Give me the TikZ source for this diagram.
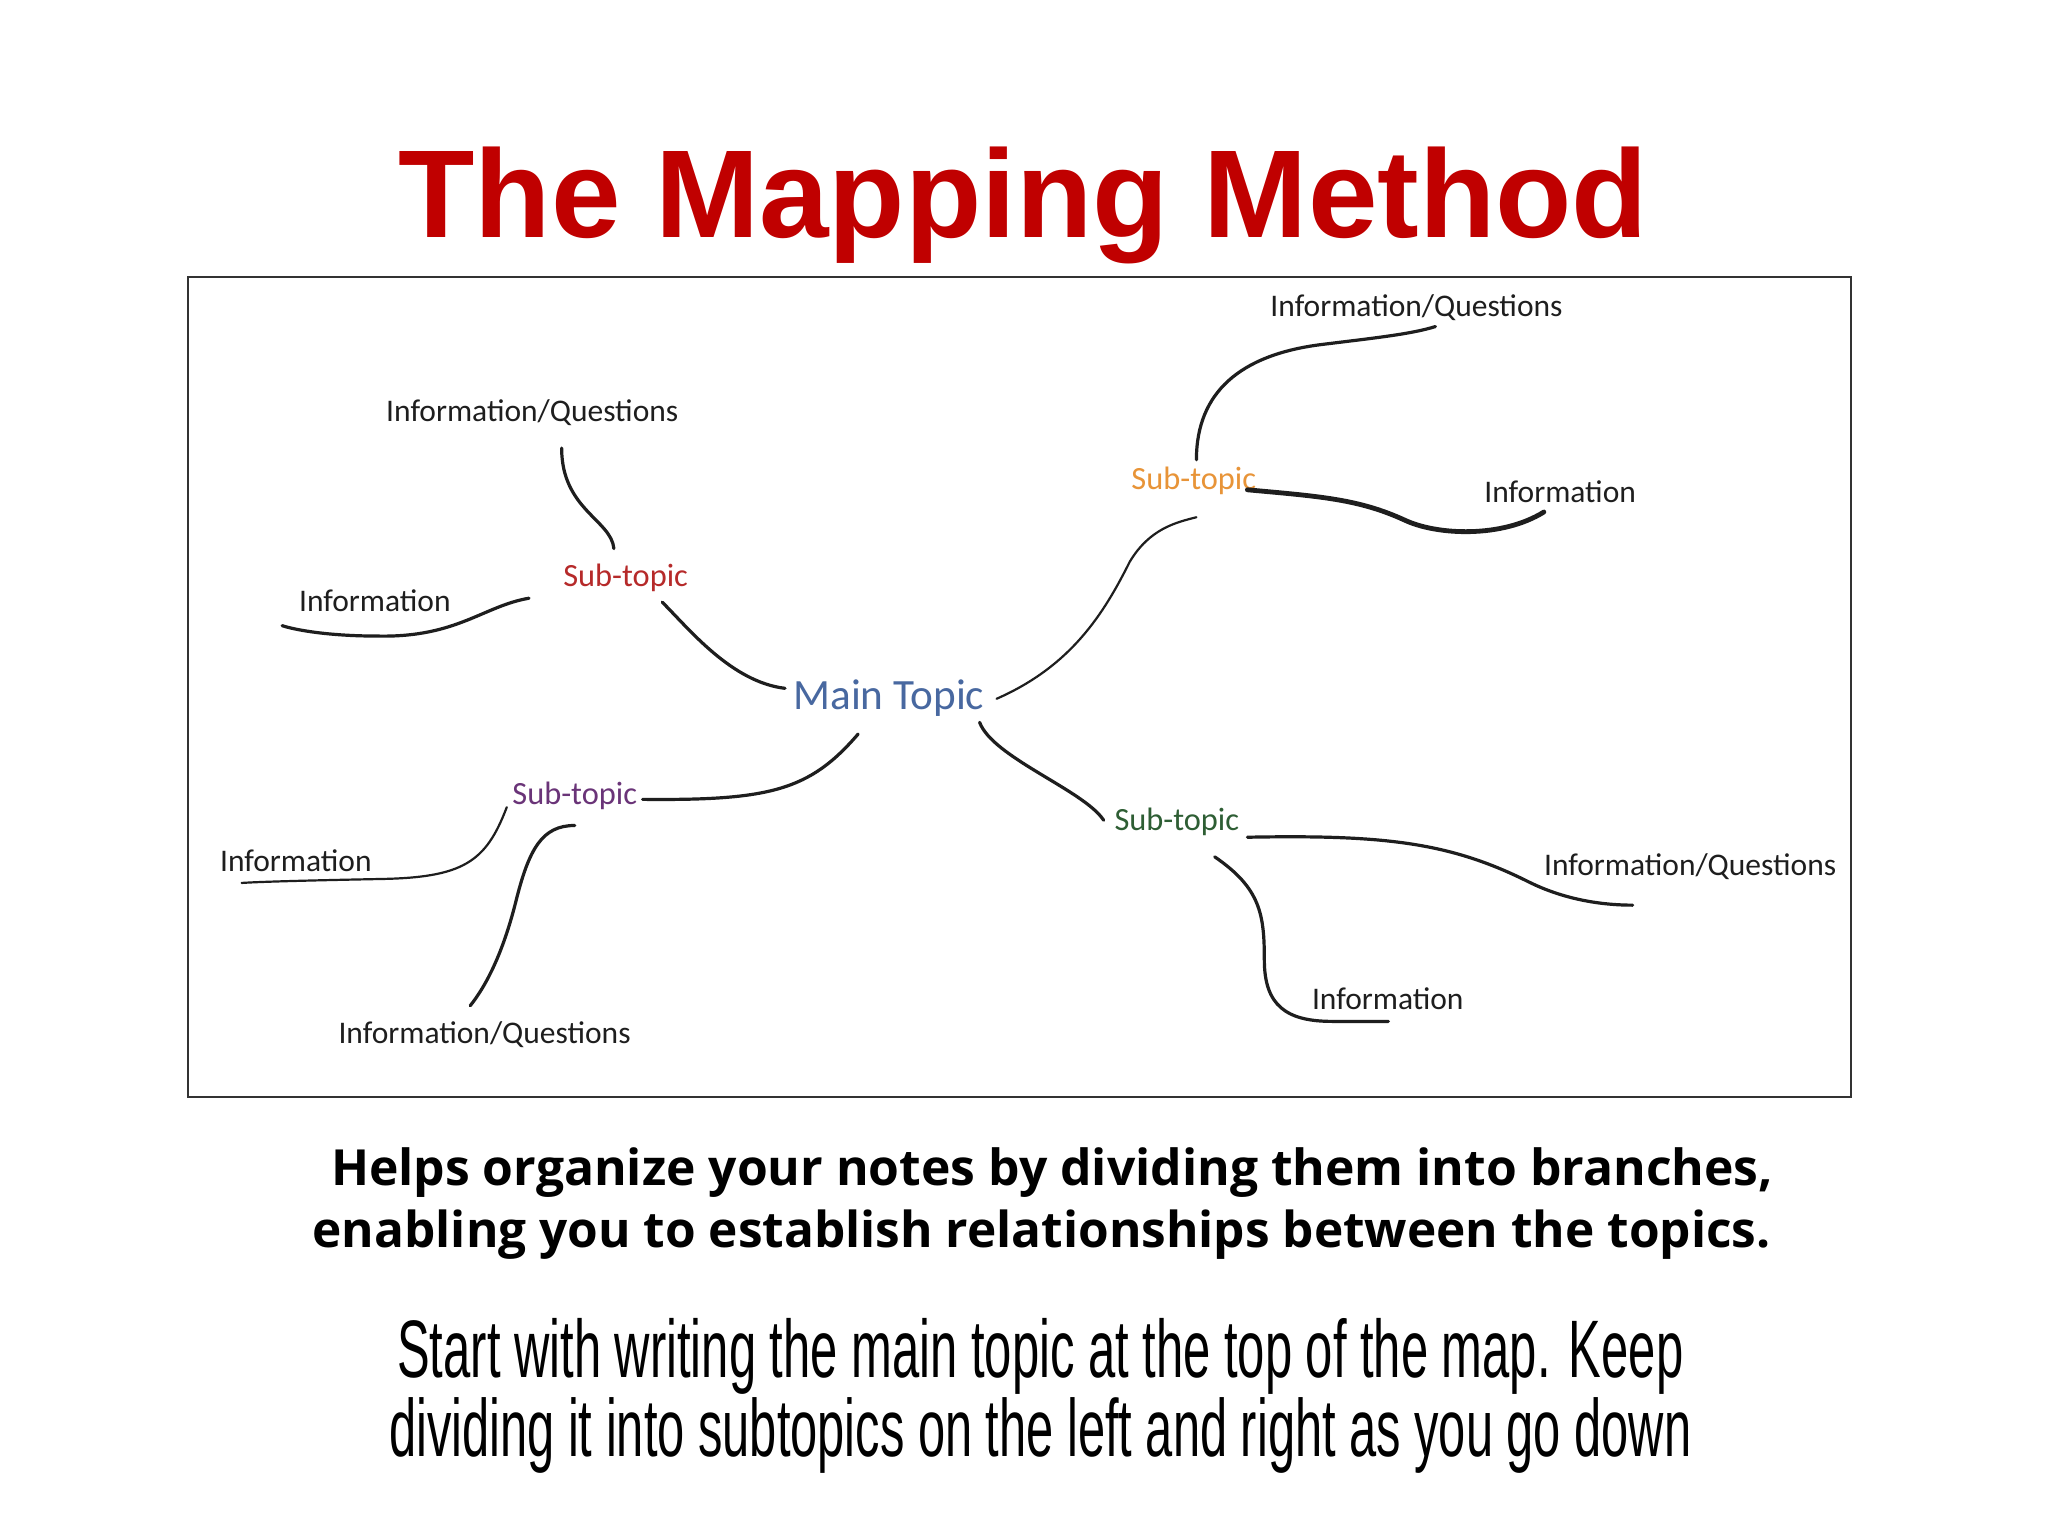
\documentclass[tikz,border=0pt]{standalone}
\usepackage{fontspec}
\setmainfont{Carlito}
\newfontfamily\titlefont{Liberation Sans}
\newfontfamily\mapfont{Carlito}
\newfontfamily\notefont{Open Sans}
\newfontfamily\condfont[FakeStretch=0.6]{Liberation Sans}
\definecolor{titlered}{RGB}{192,0,0}
\definecolor{mainblue}{RGB}{72,104,160}
\definecolor{subred}{RGB}{182,42,42}
\definecolor{subpurple}{RGB}{106,52,120}
\definecolor{suborange}{RGB}{232,148,56}
\definecolor{subgreen}{RGB}{46,94,52}
\definecolor{ink}{RGB}{30,30,30}
\begin{document}
\begin{tikzpicture}[x=0.65306pt,y=-0.65306pt,
  lbl/.style={font=\mapfont\fontsize{15.75}{18}\selectfont, anchor=base, inner sep=0pt, text=ink},
  sub/.style={font=\mapfont\fontsize{16.2}{19}\selectfont, anchor=base, inner sep=0pt},
  conn/.style={line width=1.6pt, line cap=round, draw=ink},
  thin/.style={conn, line width=1.1pt},
  thick/.style={conn, line width=2.4pt}]
\useasboundingbox (0,0) rectangle (1568,1176);
\fill[white] (0,0) rectangle (1568,1176);
% title
\node[anchor=base, inner sep=0pt, text=titlered, font=\titlefont\bfseries\fontsize{62.5}{70}\selectfont] (title) at (783.5,182) {The Mapping Method};
% frame
\draw[line width=1pt, draw=black!80] (144,212) rectangle (1417,840);
% nodes
\node[sub, text=mainblue, font=\mapfont\fontsize{21.6}{25}\selectfont] (main) at (680.5,543) {Main Topic};
\node[sub, text=subred] (sr) at (479,449) {Sub-topic};
\node[lbl] (iqtl) at (407.5,323) {Information/Questions};
\node[lbl] (ilu) at (287,468) {Information};
\node[sub, text=subpurple] (sp) at (440,616) {Sub-topic};
\node[lbl] (ill) at (226.5,667) {Information};
\node[lbl] (iqbl) at (371,799) {Information/Questions};
\node[sub, text=suborange] (so) at (914,375) {Sub-topic};
\node[lbl] (iqtr) at (1084.5,242) {Information/Questions};
\node[lbl] (iru) at (1194.5,385) {Information};
\node[sub, text=subgreen] (sg) at (901,636) {Sub-topic};
\node[lbl] (iqrl) at (1294,670) {Information/Questions};
\node[lbl] (ibr) at (1062.5,773) {Information};
% connector end points
\coordinate (m1) at (601,527);   \coordinate (sr1) at (507,461);
\coordinate (sr2) at (470,420);  \coordinate (iqtl1) at (430,343);
\coordinate (sr3) at (405,458);  \coordinate (ilu1) at (216,479);
\coordinate (m2) at (657,562);   \coordinate (sp1) at (492,612);
\coordinate (sp2) at (388,618);  \coordinate (ill1) at (185,676);
\coordinate (sp3) at (440,632);  \coordinate (iqbl1) at (360,770);
\coordinate (m3) at (763,535);   \coordinate (so1) at (916,396);
\coordinate (so2) at (916,352);  \coordinate (iqtr1) at (1099,250);
\coordinate (so3) at (955,375);  \coordinate (iru1) at (1182,392);
\coordinate (m4) at (750,553);   \coordinate (sg1) at (845,628);
\coordinate (sg2) at (955,641);  \coordinate (iqrl1) at (1250,693);
\coordinate (sg3) at (930,656);  \coordinate (ibr1) at (1063,782);
% connectors
\draw[conn] (m1) .. controls (560,522) and (528,482) .. (sr1);
\draw[conn] (sr2) .. controls (468,398) and (430,390) .. (iqtl1);
\draw[conn] (sr3) .. controls (370,464) and (350,488) .. (290,487) .. controls (250,487) and (225,482) .. (ilu1);
\draw[conn] (m2) .. controls (620,605) and (590,613) .. (sp1);
\draw[thin] (sp2) .. controls (372,660) and (355,672) .. (290,673) .. controls (240,674) and (200,675) .. (ill1);
\draw[conn] (sp3) .. controls (415,632) and (405,650) .. (395,690) .. controls (385,730) and (372,755) .. (iqbl1);
\draw[thin] (m3) .. controls (820,510) and (845,470) .. (865,430) .. controls (880,405) and (900,400) .. (so1);
\draw[conn] (so2) .. controls (916,300) and (950,272) .. (1010,264) .. controls (1050,259) and (1080,256) .. (iqtr1);
\draw[thick] (so3) .. controls (1010,380) and (1040,382) .. (1075,398) .. controls (1100,410) and (1150,412) .. (iru1);
\draw[conn] (m4) .. controls (760,580) and (830,605) .. (sg1);
\draw[conn] (sg2) .. controls (1060,639) and (1110,645) .. (1170,675) .. controls (1200,690) and (1230,693) .. (iqrl1);
\draw[conn] (sg3) .. controls (965,680) and (968,700) .. (968,735) .. controls (968,770) and (985,782) .. (1020,782) -- (ibr1);
% notes
\node[anchor=base, inner sep=0pt] (note1) at (805.5,908) {\resizebox{721pt}{!}{\notefont\bfseries Helps organize your notes by dividing them into branches,}};
\node[anchor=base, inner sep=0pt] (note2) at (797.5,955) {\resizebox{729pt}{!}{\notefont\bfseries enabling you to establish relationships between the topics.}};
\node[anchor=base, inner sep=0pt] (step1) at (796.5,1055) {\resizebox{643pt}{!}{\condfont Start with writing the main topic at the top of the map. Keep}};
\node[anchor=base, inner sep=0pt] (step2) at (796.5,1115) {\resizebox{651pt}{!}{\condfont dividing it into subtopics on the left and right as you go down}};
\end{tikzpicture}
\end{document}
